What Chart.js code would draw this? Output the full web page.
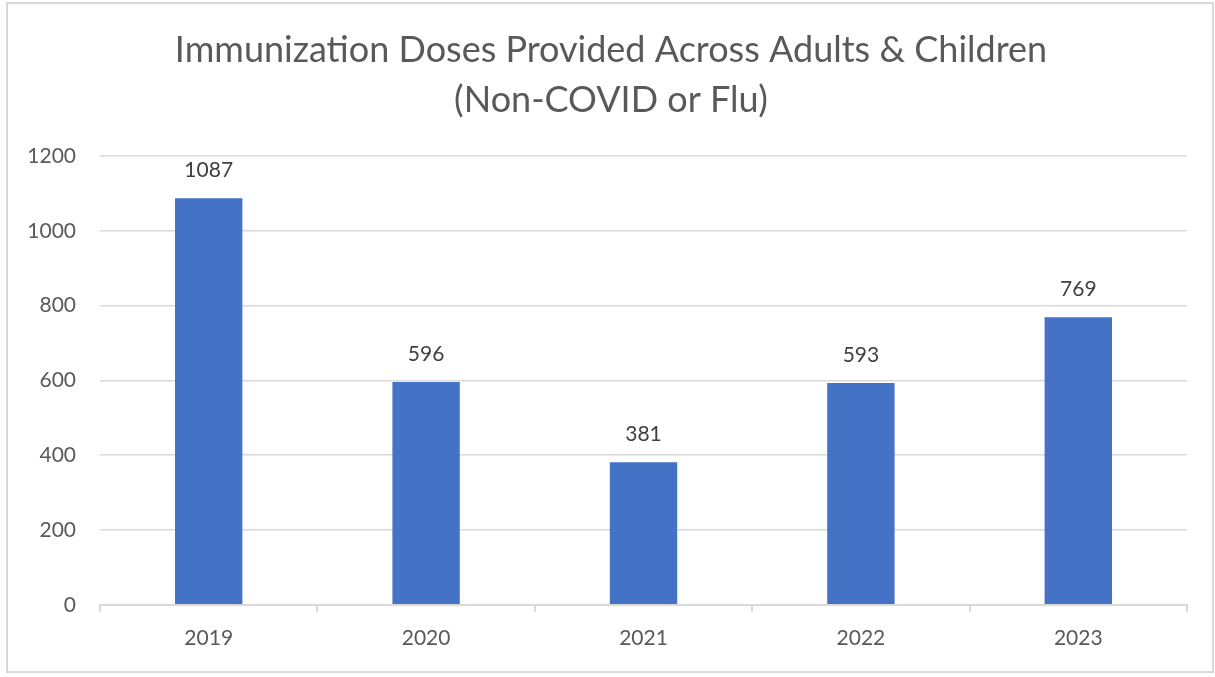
<!DOCTYPE html>
<html><head><meta charset="utf-8">
<script src="https://cdn.jsdelivr.net/npm/chart.js@4/dist/chart.umd.min.js"></script>
<style>html,body{margin:0;padding:0;background:#fff;}#wrap{width:1215px;height:677px;position:relative;}</style>
</head><body><div id="wrap"><canvas id="c" width="1215" height="677"></canvas></div>
<script>
const categories = ['2019','2020','2021','2022','2023'];
const doses = [1087, 596, 381, 593, 769];
const yTicks = [0, 200, 400, 600, 800, 1000, 1200];
const titleLines = ['Immunization Doses Provided Across Adults & Children', '(Non-COVID or Flu)'];

const FONT = 'Lato, "Open Sans", sans-serif';

const borderPlugin = {
  id: 'outerBorder',
  beforeDraw(chart) {
    const ctx = chart.ctx;
    ctx.save();
    ctx.fillStyle = '#fff';
    ctx.fillRect(0, 0, chart.width, chart.height);
    ctx.strokeStyle = '#d9d9d9';
    ctx.lineWidth = 2;
    ctx.strokeRect(7, 3, 1206, 669);
    ctx.restore();
  }
};

const valueLabels = {
  id: 'valueLabels',
  afterDatasetsDraw(chart) {
    const ctx = chart.ctx;
    const meta = chart.getDatasetMeta(0);
    ctx.save();
    ctx.font = '21px ' + FONT;
    ctx.fillStyle = '#404040';
    ctx.textAlign = 'center';
    ctx.textBaseline = 'middle';
    meta.data.forEach((bar, i) => {
      ctx.fillText(String(chart.data.datasets[0].data[i]), bar.x, bar.y - 28);
    });
    ctx.restore();
  }
};

new Chart(document.getElementById('c'), {
  type: 'bar',
  data: {
    labels: categories,
    datasets: [{
      data: doses,
      backgroundColor: '#4472C4',
      borderWidth: 0,
      categoryPercentage: 1,
      barPercentage: 0.31
    }]
  },
  options: {
    responsive: false,
    animation: false,
    devicePixelRatio: 1,
    layout: { padding: { left: 7, right: 0, top: 0, bottom: 12 } },
    plugins: {
      legend: { display: false },
      tooltip: { enabled: false },
      title: {
        display: true,
        text: titleLines,
        color: '#595959',
        font: { family: FONT, size: 36, weight: 'normal', lineHeight: 1.39 },
        padding: { top: 25, bottom: 31 }
      }
    },
    scales: {
      x: {
        grid: { display: true, drawOnChartArea: false, drawTicks: true, tickLength: 7, color: '#d9d9d9', lineWidth: 2, offset: true },
        border: { display: true, color: '#d9d9d9', width: 2 },
        ticks: { color: '#595959', font: { family: FONT, size: 21 }, padding: 14 }
      },
      y: {
        min: 0, max: 1200,
        afterFit(scale) { scale.width = 93; },
        afterBuildTicks(scale) { scale.ticks = yTicks.map(v => ({ value: v })); },
        grid: { color: '#d9d9d9', lineWidth: 1.5, drawTicks: false },
        border: { display: false },
        ticks: { color: '#595959', font: { family: FONT, size: 21 }, padding: 24, callback: v => String(v) }
      },
      yRight: {
        position: 'right',
        min: 0, max: 1200,
        afterFit(scale) { scale.width = 28; },
        grid: { display: false, drawOnChartArea: false, drawTicks: false },
        border: { display: false },
        ticks: { display: false }
      }
    }
  },
  plugins: [borderPlugin, valueLabels]
});
</script></body></html>
